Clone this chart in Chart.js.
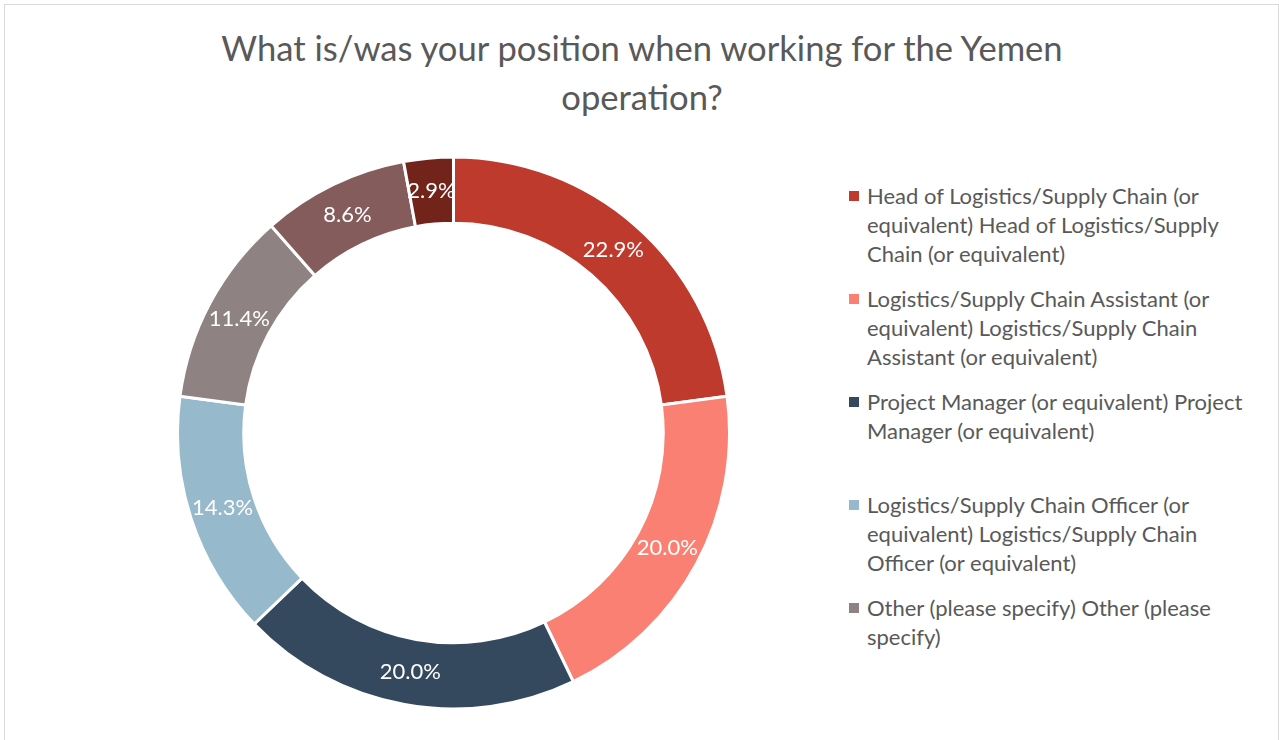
<!DOCTYPE html>
<html>
<head>
<meta charset="utf-8">
<script src="https://cdn.jsdelivr.net/npm/chart.js@4.4.1/dist/chart.umd.min.js"></script>
<style>
  body { margin: 0; background: #fff; font-family: Lato, "Open Sans", sans-serif; }
  #frame { position: absolute; left: 4px; top: 4px; width: 1273px; height: 800px; border: 1px solid #d9d9d9; pointer-events: none; }
  #title { position: absolute; left: 4px; width: 1276px; top: 23px; text-align: center; color: #595959; font-size: 34.6px; line-height: 49px; }
  #wrap { position: absolute; left: 176px; top: 155px; width: 555px; height: 556px; }
  .item { position: absolute; left: 849px; color: #595959; font-size: 22px; line-height: 29px; }
  .item .box { position: absolute; left: 0; top: 10px; width: 10px; height: 10px; }
  .item .txt { position: absolute; left: 18px; white-space: nowrap; }
</style>
</head>
<body>
<div id="frame"></div>
<div id="title">What is/was your position when working for the Yemen<br>operation?</div>
<div id="wrap"><canvas id="donut"></canvas></div>
<div id="legend"></div>
<script>
// categories (legend wraps as in the source, only first 5 shown there)
const categories = [
    ["Head of Logistics/Supply Chain (or", "equivalent) Head of Logistics/Supply", "Chain (or equivalent)"],
    ["Logistics/Supply Chain Assistant (or", "equivalent) Logistics/Supply Chain", "Assistant (or equivalent)"],
    ["Project Manager (or equivalent) Project", "Manager (or equivalent)"],
    ["Logistics/Supply Chain Officer (or", "equivalent) Logistics/Supply Chain", "Officer (or equivalent)"],
    ["Other (please specify) Other (please", "specify)"],
    ["Category 6"],
    ["Category 7"]
];
const shares = [22.9, 20.0, 20.0, 14.3, 11.4, 8.6, 2.9];
const colors = ['#be3a2c', '#f98072', '#34495e', '#97b9cc', '#8f8282', '#855c5c', '#72231a'];
const legendCount = 5;

// percent labels in the middle of the ring
const ringLabels = {
    id: 'ringLabels',
    afterDatasetsDraw(chart) {
        const ctx = chart.ctx;
        const meta = chart.getDatasetMeta(0);
        ctx.save();
        ctx.font = '22px Lato';
        ctx.fillStyle = '#ffffff';
        ctx.textAlign = 'center';
        ctx.textBaseline = 'middle';
        meta.data.forEach((arc, i) => {
            const pos = arc.tooltipPosition();
            ctx.fillText(shares[i].toFixed(1) + '%', pos.x, pos.y);
        });
        ctx.restore();
    }
};

new Chart(document.getElementById('donut'), {
    type: 'doughnut',
    data: {
        labels: categories,
        datasets: [{
            data: shares,
            backgroundColor: colors,
            borderColor: '#ffffff',
            borderWidth: 3
        }]
    },
    options: {
        responsive: true,
        maintainAspectRatio: false,
        animation: false,
        cutout: '76%',
        layout: { padding: 0 },
        plugins: {
            legend: { display: false },
            tooltip: { enabled: false }
        }
    },
    plugins: [ringLabels]
});

// html legend
const legend = document.getElementById('legend');
categories.slice(0, legendCount).forEach((lines, i) => {
    const div = document.createElement('div');
    div.className = 'item';
    div.style.top = (181 + i * 103) + 'px';
    div.innerHTML = '<span class="box" style="background:' + colors[i] + '"></span>' +
        '<span class="txt">' + lines.join('<br>') + '</span>';
    legend.appendChild(div);
});
</script>
</body>
</html>
